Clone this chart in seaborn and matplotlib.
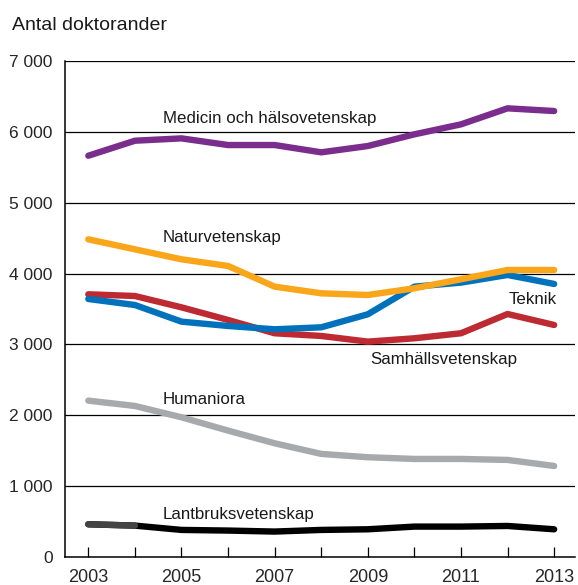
import numpy as np
import pandas as pd
import seaborn as sns
from matplotlib import pyplot as plt

# Data (antal doktorander per år)
years = list(range(2003, 2014))
medicin = [5663, 5875, 5908, 5814, 5814, 5711, 5800, 5965, 6106, 6332, 6294]
natur = [4483, 4342, 4201, 4107, 3815, 3721, 3697, 3792, 3919, 4050, 4050]
teknik = [3641, 3556, 3321, 3260, 3213, 3241, 3425, 3815, 3872, 3980, 3853]
samhall = [3707, 3683, 3523, 3345, 3157, 3119, 3039, 3086, 3157, 3429, 3274]
humaniora = [2206, 2131, 1971, 1783, 1604, 1454, 1407, 1383, 1383, 1369, 1284]
lantbruk = [461, 442, 381, 372, 358, 381, 390, 428, 428, 437, 390]

series_names = ["Samhällsvetenskap", "Teknik", "Naturvetenskap",
                "Medicin och hälsovetenskap", "Humaniora", "Lantbruksvetenskap"]
series_values = [samhall, teknik, natur, medicin, humaniora, lantbruk]
colors = ["#BE2A32", "#0072BC", "#F9A61A", "#7B2D8E", "#A7A9AC", "#000000"]

y_ticks = [0, 1000, 2000, 3000, 4000, 5000, 6000, 7000]
y_ticklabels = ["0", "1 000", "2 000", "3 000", "4 000", "5 000", "6 000", "7 000"]

# label positions (x in years, y in data units)
label_text = ["Medicin och hälsovetenskap", "Naturvetenskap", "Teknik",
              "Samhällsvetenskap", "Humaniora", "Lantbruksvetenskap"]
label_x = [2004.6, 2004.6, 2013.06, 2009.05, 2004.6, 2004.6]
label_y = [6195, 4502, 3627, 2781, 2216, 593]
label_ha = ["left", "left", "right", "left", "left", "left"]

df = pd.DataFrame({
    "year": np.tile(years, len(series_names)),
    "value": np.concatenate(series_values),
    "serie": np.repeat(series_names, len(years)),
})

sns.set_style("white")
plt.rcParams["font.family"] = ["Liberation Sans", "DejaVu Sans"]

fig = plt.figure(figsize=(5.78, 5.85), dpi=100)
ax = fig.add_axes([0.1125, 0.048, 0.8825, 0.8477])

for yv in y_ticks[1:]:
    ax.axhline(yv, color="black", lw=0.9, zorder=1)

sns.lineplot(data=df, x="year", y="value", hue="serie", hue_order=series_names,
             palette=colors, linewidth=4.6, legend=False, ax=ax,
             solid_capstyle="round", zorder=3)
# first segment of Lantbruksvetenskap is a dark grey
ax.plot(years[:2], lantbruk[:2], color="#444444", lw=4.6,
        solid_capstyle="round", zorder=4)

for t, x, y, ha in zip(label_text, label_x, label_y, label_ha):
    ax.text(x, y, t, ha=ha, va="center", fontsize=12.2, color="#1a1a1a", zorder=5)

ax.set_xlim(2002.5, 2013.45)
ax.set_ylim(0, 7000)
ax.set_xticks(years)
ax.set_xticklabels([str(y) if y % 2 == 1 else "" for y in years], fontsize=13)
ax.set_yticks(y_ticks)
ax.set_yticklabels(y_ticklabels, fontsize=12.5)
ax.tick_params(axis="x", direction="in", length=7.5, width=0.9, color="black",
               pad=9, bottom=True)
ax.tick_params(axis="y", length=0, pad=9)
ax.set_xlabel("")
ax.set_ylabel("")

for side in ["top", "right"]:
    ax.spines[side].set_visible(False)
for side in ["left", "bottom"]:
    ax.spines[side].set_color("black")
    ax.spines[side].set_linewidth(1.1)

fig.text(12 / 578, 1 - 25 / 585, "Antal doktorander", fontsize=14,
         ha="left", va="center", color="#1a1a1a")

fig.savefig("out.png", dpi=100)
